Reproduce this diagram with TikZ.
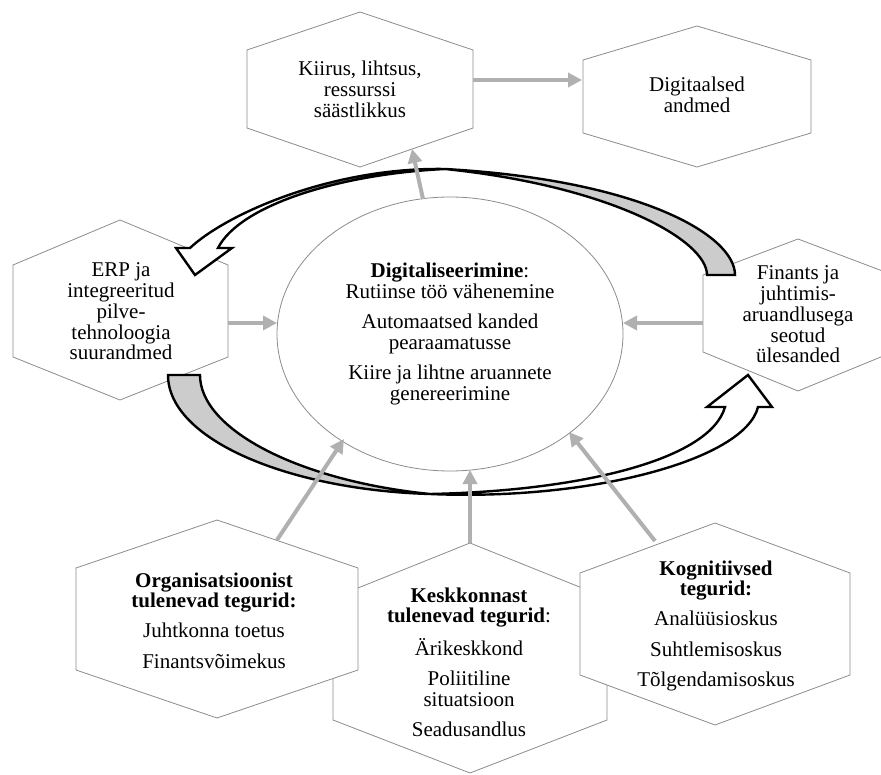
\documentclass[tikz,border=0pt]{standalone}
\usepackage{fontspec}
\setmainfont{Liberation Serif}
\usetikzlibrary{arrows.meta}
\definecolor{arrowgray}{RGB}{176,176,176}
\definecolor{bandgray}{RGB}{204,204,204}
\definecolor{linegray}{RGB}{140,140,140}
\newcommand{\txtblock}[1]{\begin{tabular}[t]{@{}c@{}}#1\end{tabular}}

\begin{document}
\begin{tikzpicture}[x=1pt,y=-1pt,
  hexa/.style={draw=linegray, line width=0.8pt, fill=white},
  band/.style={draw=black, line width=2.4pt, line join=miter, miter limit=4},
  garrow/.style={draw=arrowgray, line width=4pt, -{Triangle[length=14pt,width=14pt]}},
  blocktext/.style={anchor=base, inner sep=0pt, font=\fontsize{21}{20.5}\selectfont}]

\useasboundingbox (0,0) rectangle (881,775);
\fill[white] (0,0) rectangle (881,775);

% factor hexagons along the bottom (the middle one lies underneath)
\draw[hexa] (470,543) -- (607,598) -- (607,720) -- (470,773) -- (333,720) -- (333,598) -- cycle;
\draw[hexa] (217,520) -- (358,568) -- (358,670) -- (217,718) -- (76,670) -- (76,568) -- cycle;
\draw[hexa] (715,523) -- (850,573) -- (850,675) -- (715,725) -- (580,675) -- (580,573) -- cycle;

% hexagons around the cycle
\draw[hexa] (360,12) -- (473,50) -- (473,128) -- (360,167) -- (247,128) -- (247,50) -- cycle;
\draw[hexa] (697,26) -- (811,60) -- (811,133) -- (697,167) -- (583,133) -- (583,60) -- cycle;
\draw[hexa] (120,220) -- (228,265) -- (228,357) -- (120,400) -- (13,357) -- (13,265) -- cycle;
\draw[hexa] (798,239) -- (893,275) -- (893,352) -- (798,391) -- (703,352) -- (703,275) -- cycle;

% central ellipse
\draw[draw=linegray, line width=0.8pt, fill=white] (450,334) ellipse [x radius=173pt, y radius=137pt];

% upper curved arrow: shaded back side, then front side with head
\draw[band, fill=bandgray] (735,275) .. controls (735,235) and (640,180) .. (445,169)
  .. controls (610,186) and (707,240) .. (707,275) -- cycle;
\draw[band, fill=white] (445,169) .. controls (330,167) and (225,215) .. (190,248)
  -- (176,248) -- (195,275) -- (232,248) -- (218,248)
  .. controls (240,205) and (340,174) .. (445,169) -- cycle;

% lower curved arrow: shaded back side, then front side with head
\draw[band, fill=bandgray] (168,375) .. controls (168,440) and (290,490) .. (430,494)
  .. controls (300,481) and (200,430) .. (200,375) -- cycle;
\draw[band, fill=white] (430,494) .. controls (590,501) and (745,460) .. (758,407)
  -- (772,407) -- (748,375) -- (707,407) -- (725,407)
  .. controls (710,460) and (580,491) .. (430,494) -- cycle;

% connector end points
\coordinate (kRight) at (473,80);
\coordinate (dLeft) at (582,80);
\coordinate (eTop) at (423,199);
\coordinate (kBottom) at (412,149);
\coordinate (erpRight) at (228,323);
\coordinate (eLeft) at (277,323);
\coordinate (finLeft) at (703,323);
\coordinate (eRight) at (623,323);
\coordinate (orgTop) at (277,540);
\coordinate (eLowLeft) at (344,439);
\coordinate (envTop) at (470,543);
\coordinate (eBottom) at (470,470);
\coordinate (cogTop) at (655,541);
\coordinate (eLowRight) at (569,432);

\draw[garrow] (kRight) -- (dLeft);
\draw[garrow] (eTop) -- (kBottom);
\draw[garrow] (erpRight) -- (eLeft);
\draw[garrow] (finLeft) -- (eRight);
\draw[garrow] (orgTop) -- (eLowLeft);
\draw[garrow] (envTop) -- (eBottom);
\draw[garrow] (cogTop) -- (eLowRight);

% texts
\node[blocktext] (tDigi) at (450,278) {\txtblock{\textbf{Digitaliseerimine}:\\ Rutiinse töö vähenemine\\[9.5pt] Automaatsed kanded\\ pearaamatusse\\[9.5pt] Kiire ja lihtne aruannete\\ genereerimine}};
\node[blocktext] (tSpeed) at (360,76) {\txtblock{Kiirus, lihtsus,\\ ressurssi\\ säästlikkus}};
\node[blocktext] (tData) at (697,92) {\txtblock{Digitaalsed\\ andmed}};
\node[blocktext] (tErp) at (121,277) {\txtblock{ERP ja\\ integreeritud\\ pilve-\\ tehnoloogia\\ suurandmed}};
\node[blocktext] (tFin) at (798,280) {\txtblock{Finants ja\\ juhtimis-\\ aruandlusega\\ seotud\\ ülesanded}};
\node[blocktext] (tOrg) at (214,587) {\txtblock{\textbf{Organisatsioonist}\\ \textbf{tulenevad tegurid:}\\[9.5pt] Juhtkonna toetus\\[9.5pt] Finantsvõimekus}};
\node[blocktext] (tEnv) at (469,602) {\txtblock{\textbf{Keskkonnast}\\ \textbf{tulenevad tegurid}:\\[9.5pt] Ärikeskkond\\[9.5pt] Poliitiline\\ situatsioon\\[9.5pt] Seadusandlus}};
\node[blocktext] (tCog) at (716,575) {\txtblock{\textbf{Kognitiivsed}\\ \textbf{tegurid:}\\[9.5pt] Analüüsioskus\\[9.5pt] Suhtlemisoskus\\[9.5pt] Tõlgendamisoskus}};

\end{tikzpicture}
\end{document}
